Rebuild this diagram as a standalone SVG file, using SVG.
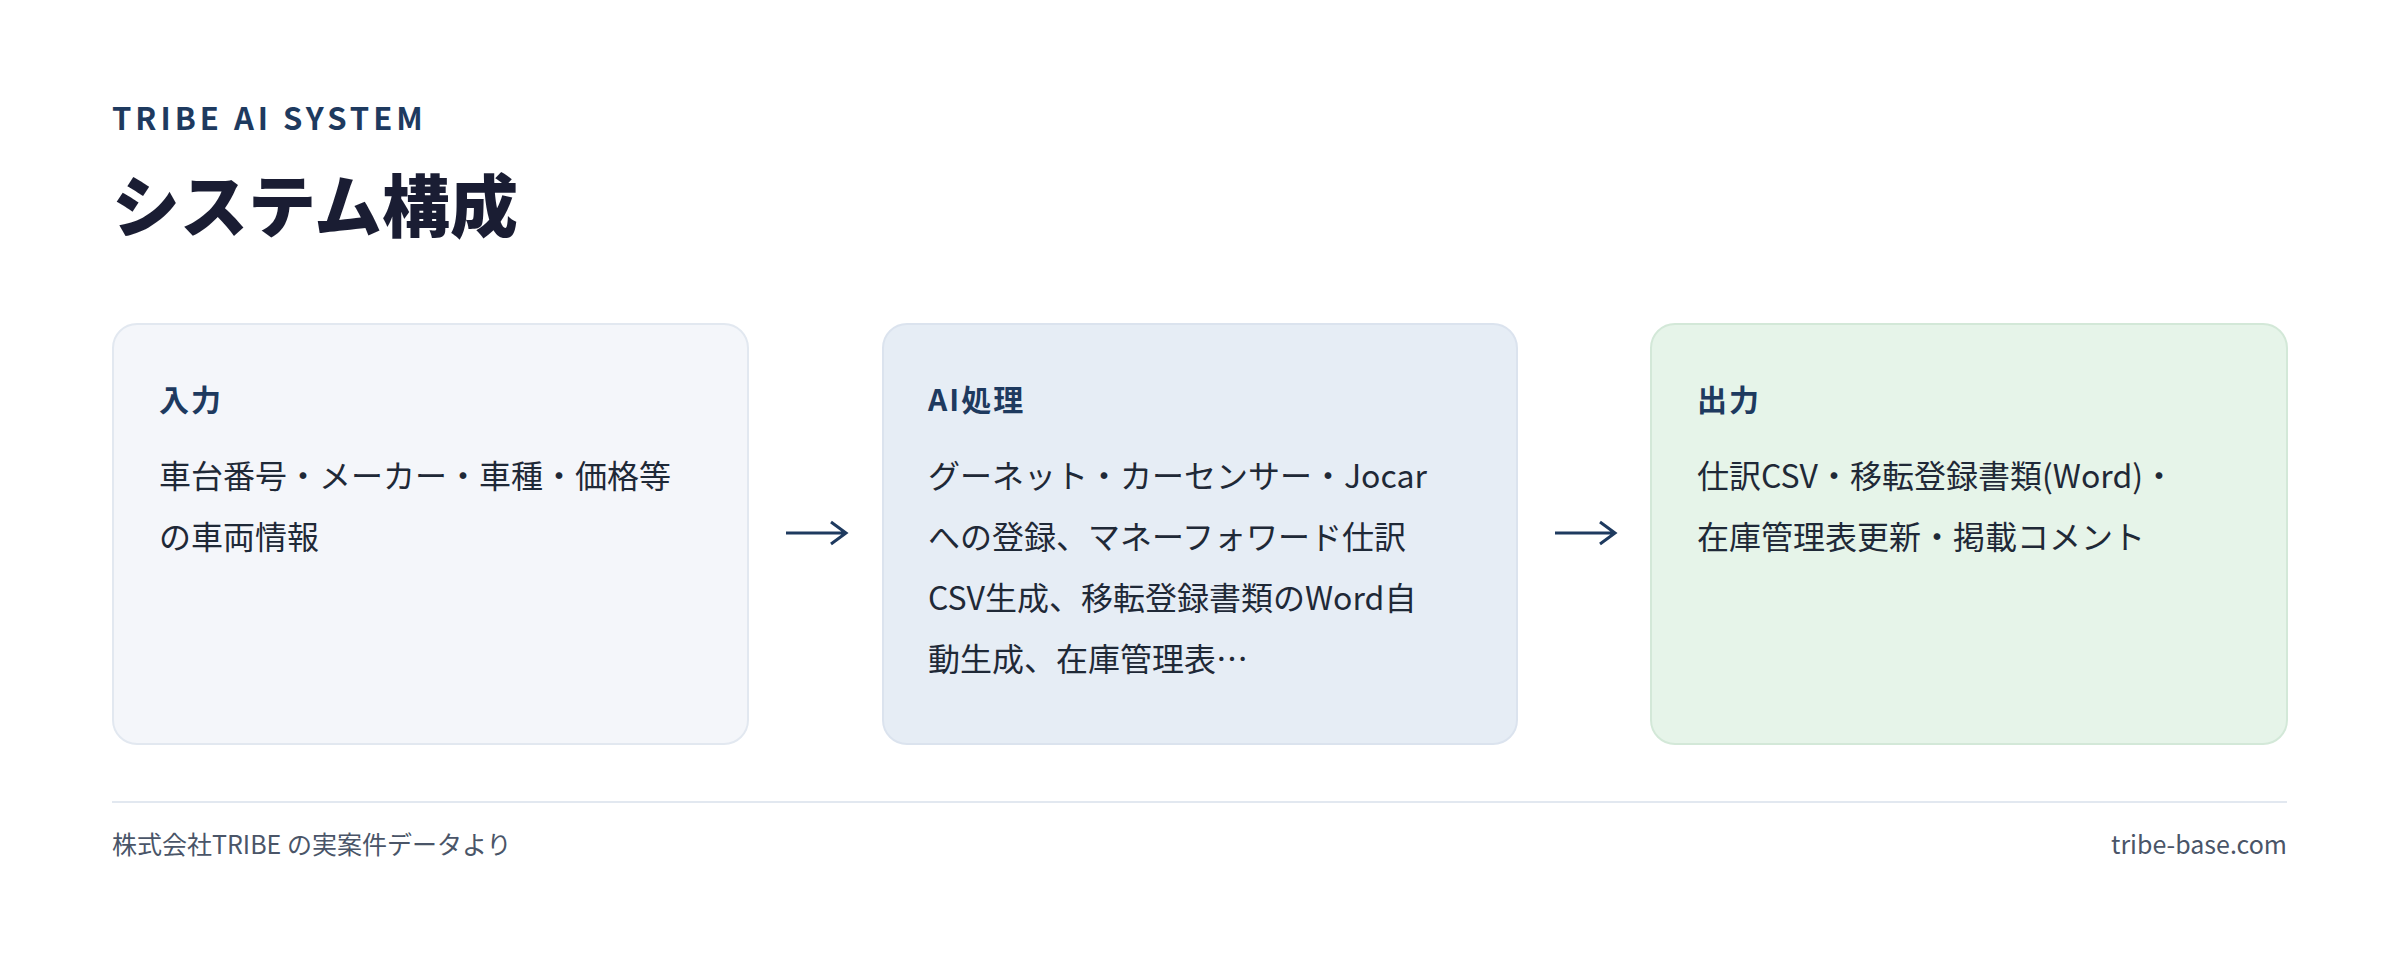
<svg xmlns="http://www.w3.org/2000/svg" width="2400" height="966" viewBox="0 0 2400 966">
<style>
.f{font-family:"Noto Sans CJK JP","Noto Sans",sans-serif}
.kick{font-size:31px;font-weight:700;fill:#1e3a5f;letter-spacing:4px}
.title{font-size:68px;font-weight:900;fill:#1a1d33}
.h{font-size:30px;font-weight:700;fill:#1e3a5f;letter-spacing:2px}
.b{font-size:32px;fill:#1f2937}
.ft{font-size:25px;fill:#4a5568}
.arr{stroke:#1e3a5f;stroke-width:3;fill:none}
</style>
<rect width="2400" height="966" fill="#ffffff"/>
<text class="f kick" x="112" y="130">TRIBE AI SYSTEM</text>
<text class="f title" x="112" y="232">システム構成</text>
<g id="node-input">
<rect x="113" y="324" width="635" height="420" rx="24" fill="#f4f6fa" stroke="#e2e8f0" stroke-width="2"/>
<text class="f h" x="159" y="411">入力</text>
<text class="f b" x="159" y="488">車台番号・メーカー・車種・価格等</text>
<text class="f b" x="159" y="549">の車両情報</text>
</g>
<g id="node-ai">
<rect x="883" y="324" width="634" height="420" rx="24" fill="#e6edf5" stroke="#dbe3ee" stroke-width="2"/>
<text class="f h" x="928" y="411">AI処理</text>
<text class="f b" x="928" y="488">グーネット・カーセンサー・Jocar</text>
<text class="f b" x="928" y="549">への登録、マネーフォワード仕訳</text>
<text class="f b" x="928" y="610">CSV生成、移転登録書類のWord自</text>
<text class="f b" x="928" y="671">動生成、在庫管理表…</text>
</g>
<g id="node-output">
<rect x="1651" y="324" width="636" height="420" rx="24" fill="#e6f4e9" stroke="#d3e8d8" stroke-width="2"/>
<text class="f h" x="1697" y="411">出力</text>
<text class="f b" x="1697" y="488">仕訳CSV・移転登録書類(Word)・</text>
<text class="f b" x="1697" y="549">在庫管理表更新・掲載コメント</text>
</g>
<g id="connectors">
<path class="arr" d="M786 533H845M831 522L846 533L831 544"/>
<path class="arr" d="M1555 533H1614M1600 522L1615 533L1600 544"/>
</g>
<line x1="112" y1="802" x2="2287" y2="802" stroke="#e2e8f0" stroke-width="2"/>
<text class="f ft" x="112" y="854">株式会社TRIBE の実案件データより</text>
<text class="f ft" x="2287" y="854" text-anchor="end">tribe-base.com</text>
</svg>
